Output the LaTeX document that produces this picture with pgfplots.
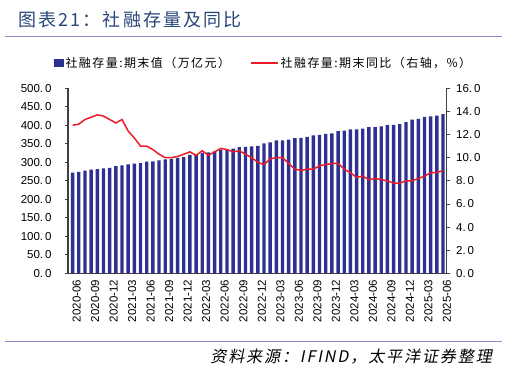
\documentclass[border=0pt]{standalone}
\usepackage{pgfplots}
\pgfplotsset{compat=1.18}
\usepackage{pgfplotstable}
\usepackage{fontspec}
\setmainfont{Liberation Sans}
\newfontfamily\cjk{Noto Sans CJK SC}
\newfontfamily\cjktitle[LetterSpace=12]{Noto Sans CJK SC}
\newfontfamily\cjkleg[LetterSpace=12]{Noto Sans CJK SC}
\newfontfamily\cjkit[FakeSlant=0.2,LetterSpace=12]{Noto Sans CJK SC}
\definecolor{barblue}{RGB}{46,49,146}
\definecolor{linered}{RGB}{237,28,36}
\definecolor{titleblue}{RGB}{40,70,120}
\definecolor{rulec}{RGB}{140,140,200}
\definecolor{axisgray}{RGB}{64,64,64}

\pgfplotstableread{
idx val yoy
0 271.8 12.8
1 273.8 12.9
2 277.2 13.3
3 280.1 13.5
4 281.5 13.7
5 283.6 13.6
6 284.8 13.3
7 289.7 13.0
8 291.4 13.3
9 294.6 12.3
10 296.2 11.7
11 298.1 11.0
12 301.6 11.0
13 302.5 10.7
14 305.0 10.3
15 307.9 10.0
16 309.5 10.0
17 312.1 10.1
18 314.1 10.3
19 320.1 10.5
20 321.2 10.2
21 325.6 10.6
22 326.5 10.2
23 329.2 10.5
24 334.3 10.8
25 335.0 10.7
26 337.2 10.5
27 340.7 10.6
28 341.4 10.3
29 343.2 10.0
30 344.2 9.6
31 350.9 9.4
32 353.9 9.9
33 359.0 10.0
34 359.4 10.0
35 361.4 9.5
36 365.5 9.0
37 365.8 8.9
38 368.9 9.0
39 372.5 9.0
40 374.2 9.3
41 376.7 9.4
42 378.1 9.5
43 384.0 9.5
44 385.6 9.0
45 389.1 8.7
46 389.0 8.3
47 391.1 8.4
48 395.1 8.1
49 394.9 8.2
50 397.2 8.1
51 400.4 8.0
52 401.4 7.8
53 403.4 7.8
54 408.3 8.0
55 415.1 8.0
56 417.3 8.2
57 423.0 8.4
58 424.0 8.7
59 426.2 8.7
60 430.2 8.9
}\data

\begin{document}
\begin{tikzpicture}[x=1pt,y=1pt]
\path (0,0) rectangle (507,369);
\node[anchor=west, text=titleblue, font=\cjktitle\fontsize{18}{18}\selectfont, inner sep=0pt] at (18,349) {图表21：社融存量及同比};
\draw[rulec, line width=1pt] (5,332) -- (502,332);
\draw[rulec, line width=1pt] (5,27) -- (502,27);
\node[anchor=east, font=\cjkit\fontsize{16}{16}\selectfont, inner sep=0pt] at (492,12) {资料来源：IFIND，太平洋证券整理};

\begin{axis}[
  at={(68pt,95.7pt)}, anchor=south west, scale only axis,
  width=378.7pt, height=185pt,
  xmin=-0.75, xmax=60.6, ymin=0, ymax=500,
  axis y line*=left, axis x line*=bottom,
  axis line style={axisgray, line width=1.2pt},
  ytick={0,50,...,500},
  xtick={0,3,...,60},
  xticklabels={2020-06,2020-09,2020-12,2021-03,2021-06,2021-09,2021-12,2022-03,2022-06,2022-09,2022-12,2023-03,2023-06,2023-09,2023-12,2024-03,2024-06,2024-09,2024-12,2025-03,2025-06},
  x tick label style={rotate=90, anchor=east, yshift=-4pt},
  xtick style={draw=none},
  ytick style={axisgray, line width=0.8pt},
  tick align=outside, major tick length=3pt,
  /pgf/number format/assume math mode=true,
  yticklabel style={xshift=-10pt, /pgf/number format/fixed, /pgf/number format/fixed zerofill, /pgf/number format/precision=1, /pgf/number format/dec sep={.\,}},
  tick label style={font=\fontsize{11.5}{11.5}\selectfont, text=black},
  legend style={at={(0.5,1)}, anchor=south, yshift=15pt, xshift=6pt, draw=none, fill=none,
    legend columns=2, font=\cjkleg\fontsize{12}{12}\selectfont,
    /tikz/every even column/.append style={column sep=18pt}},
]
\addplot[ybar, bar width=0.55, fill=barblue, draw=none,
  legend image code/.code={\fill[barblue] (0pt,-4pt) rectangle (10pt,4pt);}]
  table[x=idx, y=val] {\data};
\addlegendentry{社融存量:期末值（万亿元）}
\addlegendimage{legend image code/.code={\draw[linered, line width=1.5pt] (0pt,0pt) -- (27pt,0pt);}}
\addlegendentry{社融存量:期末同比（右轴，\%）}
\end{axis}

\begin{axis}[
  at={(68pt,95.7pt)}, anchor=south west, scale only axis,
  width=378.7pt, height=185pt,
  xmin=-0.75, xmax=60.6, ymin=0, ymax=16,
  axis y line*=right, axis x line=none,
  axis line style={axisgray, line width=1.2pt},
  ytick={0,2,...,16},
  ytick style={axisgray, line width=0.8pt},
  tick align=outside, major tick length=3pt,
  /pgf/number format/assume math mode=true,
  yticklabel style={xshift=3pt, /pgf/number format/fixed, /pgf/number format/fixed zerofill, /pgf/number format/precision=1, /pgf/number format/dec sep={.\,}},
  tick label style={font=\fontsize{11.5}{11.5}\selectfont, text=black},
]
\addplot[linered, line width=1.5pt, no marks] table[x=idx, y=yoy] {\data};
\end{axis}
\end{tikzpicture}
\end{document}
